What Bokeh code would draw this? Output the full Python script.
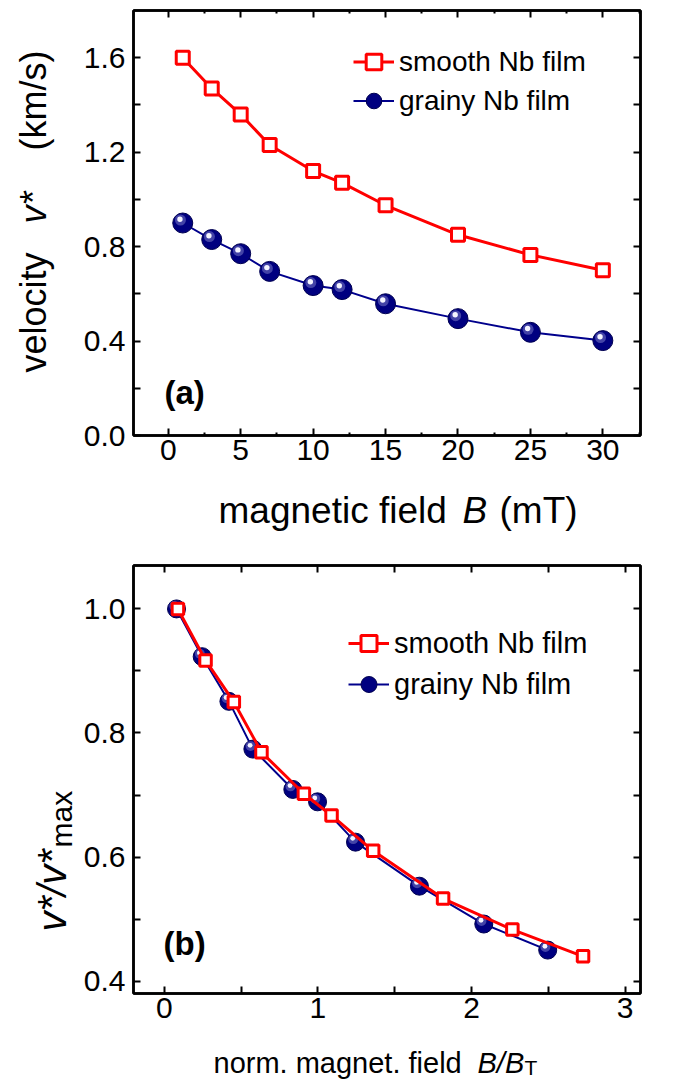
import math
from bokeh.plotting import figure
from bokeh.models import (FixedTicker, LinearAxis, Range1d, Label, Legend,
                          LegendItem, ColumnDataSource, PrintfTickFormatter)
from bokeh.layouts import column, row
from bokeh.transform import dodge
from bokeh.embed import file_html
from bokeh.resources import INLINE

# ---------------- data ----------------
field_mT = [1, 3, 5, 7, 10, 12, 15, 20, 25, 30]
v_smooth = [1.60, 1.47, 1.36, 1.23, 1.12, 1.07, 0.975, 0.85, 0.765, 0.70]
v_grainy = [0.90, 0.83, 0.77, 0.695, 0.635, 0.618, 0.558, 0.495, 0.437, 0.402]

bnorm_smooth = [0.089, 0.269, 0.453, 0.633, 0.909, 1.089, 1.36, 1.815, 2.266, 2.726]
vnorm_smooth = [1.0, 0.917, 0.85, 0.769, 0.702, 0.667, 0.61, 0.533, 0.483, 0.44]
bnorm_grainy = [0.08, 0.247, 0.421, 0.577, 0.837, 0.998, 1.245, 1.661, 2.08, 2.496]
vnorm_grainy = [1.0, 0.923, 0.851, 0.774, 0.709, 0.689, 0.624, 0.553, 0.492, 0.45]

series_labels = ["smooth Nb film", "grainy Nb film"]

top_xticks = [0, 5, 10, 15, 20, 25, 30]
top_xminor = [-2.5, 2.5, 7.5, 12.5, 17.5, 22.5, 27.5, 32.5]
top_yticks = [0.0, 0.4, 0.8, 1.2, 1.6]
top_yminor = [0.2, 0.6, 1.0, 1.4]
bot_xticks = [0, 1, 2, 3]
bot_xminor = [0.5, 1.5, 2.5]
bot_yticks = [0.4, 0.6, 0.8, 1.0]
bot_yminor = [0.5, 0.7, 0.9]

FONT = "Liberation Sans"
RED = "#ff0000"
NAVY = "#000080"
LINE_BLUE = "#00008c"

# ---------------- geometry (page pixels) ----------------
YT_W = 80           # width of the strip that holds the rotated y titles
FRAME_L = 132
FW = 507
TOTAL_W = FRAME_L + FW + 3
TOP_XR = (-2.4, 32.6)
TOP_YR = (0.0, 1.8)
TOP_FH = 425
P1_TOP, P1_BOT = 10, 45
P1_H = P1_TOP + TOP_FH + P1_BOT          # 480
XT1_H = 68
BOT_XR = (-0.2, 3.1)
BOT_YR = (0.38, 1.07)
BOT_FH = 428
P2_TOP, P2_BOT = 17, 42
P2_H = P2_TOP + BOT_FH + P2_BOT          # 487
XT2_H = 1081 - (P1_H + XT1_H + P2_H)     # 46


def make_fig(xr, yr, fh, border_top, border_bottom, xt, xm, yt, ym, xminor_len, yfmt):
    p = figure(x_range=Range1d(*xr), y_range=Range1d(*yr),
               frame_width=FW, frame_height=fh,
               min_border_left=FRAME_L - YT_W, min_border_right=3,
               min_border_top=border_top, min_border_bottom=border_bottom,
               output_backend="svg", toolbar_location=None, tools="")
    p.grid.visible = False
    p.outline_line_color = "black"
    p.outline_line_width = 2.5
    p.add_layout(LinearAxis(), "above")
    p.add_layout(LinearAxis(), "right")
    p.xaxis.ticker = FixedTicker(ticks=xt, minor_ticks=xm)
    p.yaxis.ticker = FixedTicker(ticks=yt, minor_ticks=ym)
    p.yaxis.formatter = PrintfTickFormatter(format=yfmt)
    for ax in p.axis:
        ax.axis_line_width = 2.5
        ax.axis_line_color = "black"
        ax.major_tick_in = 7
        ax.major_tick_out = 0
        ax.major_tick_line_width = 2
        ax.minor_tick_out = 0
        ax.minor_tick_line_width = 2
        ax.major_label_text_font = FONT
        ax.major_label_text_font_size = "30px"
        ax.major_label_text_color = "black"
    for ax in p.xaxis:
        ax.minor_tick_in = xminor_len
    for ax in p.yaxis:
        ax.minor_tick_in = 7
    p.below[0].major_label_standoff = 4
    p.left[0].major_label_standoff = 8
    for ax in (p.above[0], p.right[0]):
        ax.major_label_text_color = None
        ax.major_label_standoff = 0
    return p


def text_fig(w, h):
    """A blank strip whose data units are its own pixels (y measured downwards)."""
    f = figure(x_range=Range1d(0, w), y_range=Range1d(-h, 0),
               frame_width=w, frame_height=h, min_border=0,
               x_axis_type=None, y_axis_type=None,
               output_backend="svg", toolbar_location=None, tools="")
    f.outline_line_color = None
    return f


def put(f, x, y, text, size, **kw):
    f.add_layout(Label(x=x, y=-y, text=text, text_font=FONT, text_font_size=size,
                       text_color="black", **kw))


def add_series(p, xs_s, ys_s, xs_g, ys_g, sq, circ, px_x, px_y):
    src_g = ColumnDataSource(dict(x=xs_g, y=ys_g))
    bl = p.line("x", "y", source=src_g, line_color=LINE_BLUE, line_width=2)
    bc = p.scatter("x", "y", source=src_g, marker="circle", size=circ,
                   fill_color=NAVY, line_color="#000050", line_width=1)
    p.scatter(x=dodge("x", -2.3 / px_x), y=dodge("y", 3.0 / px_y), source=src_g,
              marker="circle", size=circ * 0.55, fill_color="#5a5ab4",
              fill_alpha=0.75, line_color=None)
    p.scatter(x=dodge("x", -2.8 / px_x), y=dodge("y", 3.8 / px_y), source=src_g,
              marker="circle", size=circ * 0.27, fill_color="#f4f4ff",
              line_color=None)
    src_s = ColumnDataSource(dict(x=xs_s, y=ys_s))
    rl = p.line("x", "y", source=src_s, line_color=RED, line_width=3)
    rs = p.scatter("x", "y", source=src_s, marker="square", size=sq,
                   fill_color="white", line_color=RED, line_width=3)
    return (rl, rs), (bl, bc)


def add_legend(p, reds, blues, loc, gh, spacing, fs):
    leg = Legend(items=[LegendItem(label=series_labels[0], renderers=list(reds)),
                        LegendItem(label=series_labels[1], renderers=list(blues))],
                 location=loc, glyph_width=41, glyph_height=gh, label_standoff=5,
                 spacing=spacing, padding=0, margin=0, border_line_color=None,
                 background_fill_alpha=0, label_text_font=FONT,
                 label_text_font_size=fs, label_text_color="black")
    p.add_layout(leg)


# ---------------- top panel ----------------
p1 = make_fig(TOP_XR, TOP_YR, TOP_FH, P1_TOP, P1_BOT, top_xticks, top_xminor,
              top_yticks, top_yminor, 3, "%.1f")
t_px_x = FW / (TOP_XR[1] - TOP_XR[0])
t_px_y = TOP_FH / (TOP_YR[1] - TOP_YR[0])
reds, blues = add_series(p1, field_mT, v_smooth, field_mT, v_grainy, 13, 20, t_px_x, t_px_y)
add_legend(p1, reds, blues, (220, 315), 39, 0, "28px")
p1.add_layout(Label(x=TOP_XR[0] + (163 - FRAME_L) / t_px_x,
                    y=TOP_YR[0] + (P1_TOP + TOP_FH - 392) / t_px_y,
                    text="(a)", text_font=FONT, text_font_size="33px",
                    text_font_style="bold", text_color="black",
                    text_align="left", text_baseline="middle"))

yt1 = text_fig(YT_W, P1_H)
put(yt1, 33, 362, "velocity", "36px", angle=math.pi / 2,
    text_align="left", text_baseline="middle")
put(yt1, 33, 197, "v*", "36px", angle=math.pi / 2, text_font_style="italic",
    text_align="center", text_baseline="middle")
put(yt1, 33, 40, "(km/s)", "36px", angle=math.pi / 2,
    text_align="right", text_baseline="middle")

xt1 = text_fig(TOTAL_W, XT1_H)
y0 = P1_H
put(xt1, 218, 510 - y0, "magnetic field", "37px", text_align="left", text_baseline="alphabetic")
put(xt1, 462, 510 - y0, "B", "37px", text_font_style="italic",
    text_align="left", text_baseline="alphabetic")
put(xt1, 499, 510 - y0, "(mT)", "37px", text_align="left", text_baseline="alphabetic")

# ---------------- bottom panel ----------------
p2 = make_fig(BOT_XR, BOT_YR, BOT_FH, P2_TOP, P2_BOT, bot_xticks, bot_xminor,
              bot_yticks, bot_yminor, 7, "%.1f")
b_px_x = FW / (BOT_XR[1] - BOT_XR[0])
b_px_y = BOT_FH / (BOT_YR[1] - BOT_YR[0])
reds2, blues2 = add_series(p2, bnorm_smooth, vnorm_smooth, bnorm_grainy, vnorm_grainy,
                           11.5, 18, b_px_x, b_px_y)
add_legend(p2, reds2, blues2, (215, 289), 40, 1, "29px")
P2_Y0 = P1_H + XT1_H
p2.add_layout(Label(x=BOT_XR[0] + (162 - FRAME_L) / b_px_x,
                    y=BOT_YR[1] - (943 - (P2_Y0 + P2_TOP)) / b_px_y,
                    text="(b)", text_font=FONT, text_font_size="33px",
                    text_font_style="bold", text_color="black",
                    text_align="left", text_baseline="middle"))

yt2 = text_fig(YT_W, P2_H)
put(yt2, 51, 914 - P2_Y0, "v*/v*", "40px", angle=math.pi / 2, text_font_style="italic",
    text_align="left", text_baseline="alphabetic")
put(yt2, 52, 830 - P2_Y0, "max", "30px", angle=math.pi / 2,
    text_align="left", text_baseline="top", y_offset=0, x_offset=-8)

xt2 = text_fig(TOTAL_W, XT2_H)
y2 = P2_Y0 + P2_H
put(xt2, 213, 1062 - y2, "norm. magnet. field", "29px",
    text_align="left", text_baseline="alphabetic")
put(xt2, 477, 1062 - y2, "B/B", "29px", text_font_style="italic",
    text_align="left", text_baseline="alphabetic")
put(xt2, 524, 1067 - y2, "T", "21px", text_align="left", text_baseline="alphabetic")

layout = column(row(yt1, p1, spacing=0), xt1, row(yt2, p2, spacing=0), xt2, spacing=0)
open("out.html", "w").write(file_html(layout, INLINE))
